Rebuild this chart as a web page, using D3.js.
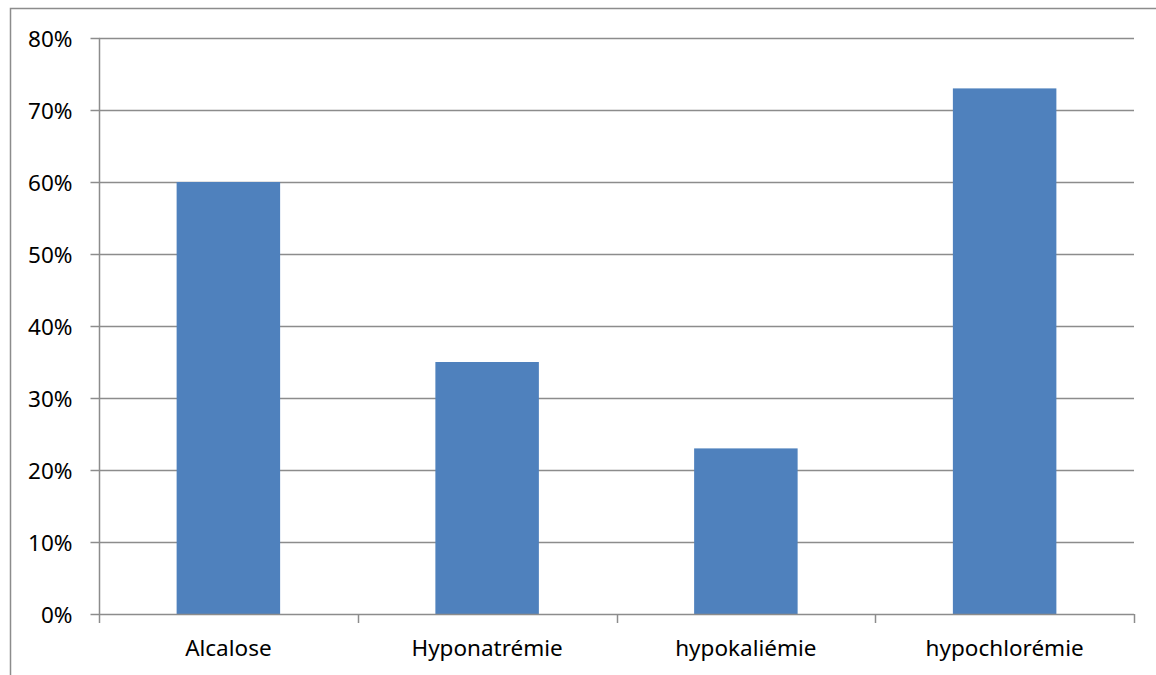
<!DOCTYPE html>
<html>
<head>
<meta charset="utf-8">
<script src="https://cdn.jsdelivr.net/npm/d3@7"></script>
<style>
  html, body { margin: 0; padding: 0; background: #fff; }
  svg { display: block; }
  text { font-family: "Noto Sans", "Open Sans", sans-serif; fill: #000; }
</style>
</head>
<body>
<svg id="chart" width="1156" height="675"></svg>
<script>
// Share of patients per electrolyte disorder
const categories = ["Alcalose", "Hyponatrémie", "hypokaliémie", "hypochlorémie"];
const values = [0.60, 0.35, 0.23, 0.73];
const yTicks = [0, 0.1, 0.2, 0.3, 0.4, 0.5, 0.6, 0.7, 0.8];

const W = 1156, H = 675;
const margin = { top: 38, right: 22, bottom: 61, left: 99 };
const gridColor = "#8c8c8c";
const fontSize = 22.5;

const svg = d3.select("#chart");

// outer chart frame
svg.append("rect")
  .attr("x", 10.5).attr("y", 8.5)
  .attr("width", W + 10).attr("height", H + 10)
  .attr("fill", "none").attr("stroke", gridColor).attr("stroke-width", 1.5);

const x = d3.scaleBand()
  .domain(categories)
  .range([margin.left, W - margin.right])
  .paddingInner(0.6).paddingOuter(0.3);

const y = d3.scaleLinear()
  .domain([0, 0.8])
  .range([H - margin.bottom, margin.top]);

// horizontal gridlines
svg.append("g")
  .selectAll("line")
  .data(yTicks.slice(1))
  .join("line")
  .attr("x1", margin.left).attr("x2", W - margin.right)
  .attr("y1", d => Math.round(y(d)) + 0.5).attr("y2", d => Math.round(y(d)) + 0.5)
  .attr("stroke", gridColor).attr("stroke-width", 1.5);

// bars
svg.append("g")
  .selectAll("rect")
  .data(values)
  .join("rect")
  .attr("x", (d, i) => x(categories[i]))
  .attr("width", x.bandwidth())
  .attr("y", d => y(d))
  .attr("height", d => y(0) - y(d))
  .attr("fill", "#4f81bd");

// y axis
const yAxis = svg.append("g")
  .attr("transform", `translate(${margin.left + 0.5},0)`)
  .call(d3.axisLeft(y).tickValues(yTicks).tickFormat(d3.format(".0%")).tickSize(9).tickPadding(18));
yAxis.selectAll("line, path").attr("stroke", gridColor).attr("stroke-width", 1.5);
yAxis.select(".domain").attr("d", `M0,${y(0.8)}V${y(0)}`);
yAxis.selectAll("text").attr("font-size", fontSize).attr("dy", "0.36em")
  .style("font-family", "'Noto Sans', sans-serif").attr("fill", "#000");

// x axis with tick marks at category boundaries
const bounds = d3.range(categories.length + 1).map(i => margin.left + i * x.step());
const xAxisG = svg.append("g");
xAxisG.append("line")
  .attr("x1", margin.left).attr("x2", W - margin.right)
  .attr("y1", Math.round(y(0)) + 0.5).attr("y2", Math.round(y(0)) + 0.5)
  .attr("stroke", gridColor).attr("stroke-width", 1.5);
xAxisG.selectAll("line.tick")
  .data(bounds)
  .join("line")
  .attr("class", "tick")
  .attr("x1", d => Math.round(d) + 0.5).attr("x2", d => Math.round(d) + 0.5)
  .attr("y1", y(0)).attr("y2", y(0) + 9)
  .attr("stroke", gridColor).attr("stroke-width", 1.5);
xAxisG.selectAll("text")
  .data(categories)
  .join("text")
  .attr("x", d => x(d) + x.bandwidth() / 2)
  .attr("y", y(0) + 42)
  .attr("text-anchor", "middle")
  .attr("font-size", fontSize)
  .text(d => d);
</script>
</body>
</html>
